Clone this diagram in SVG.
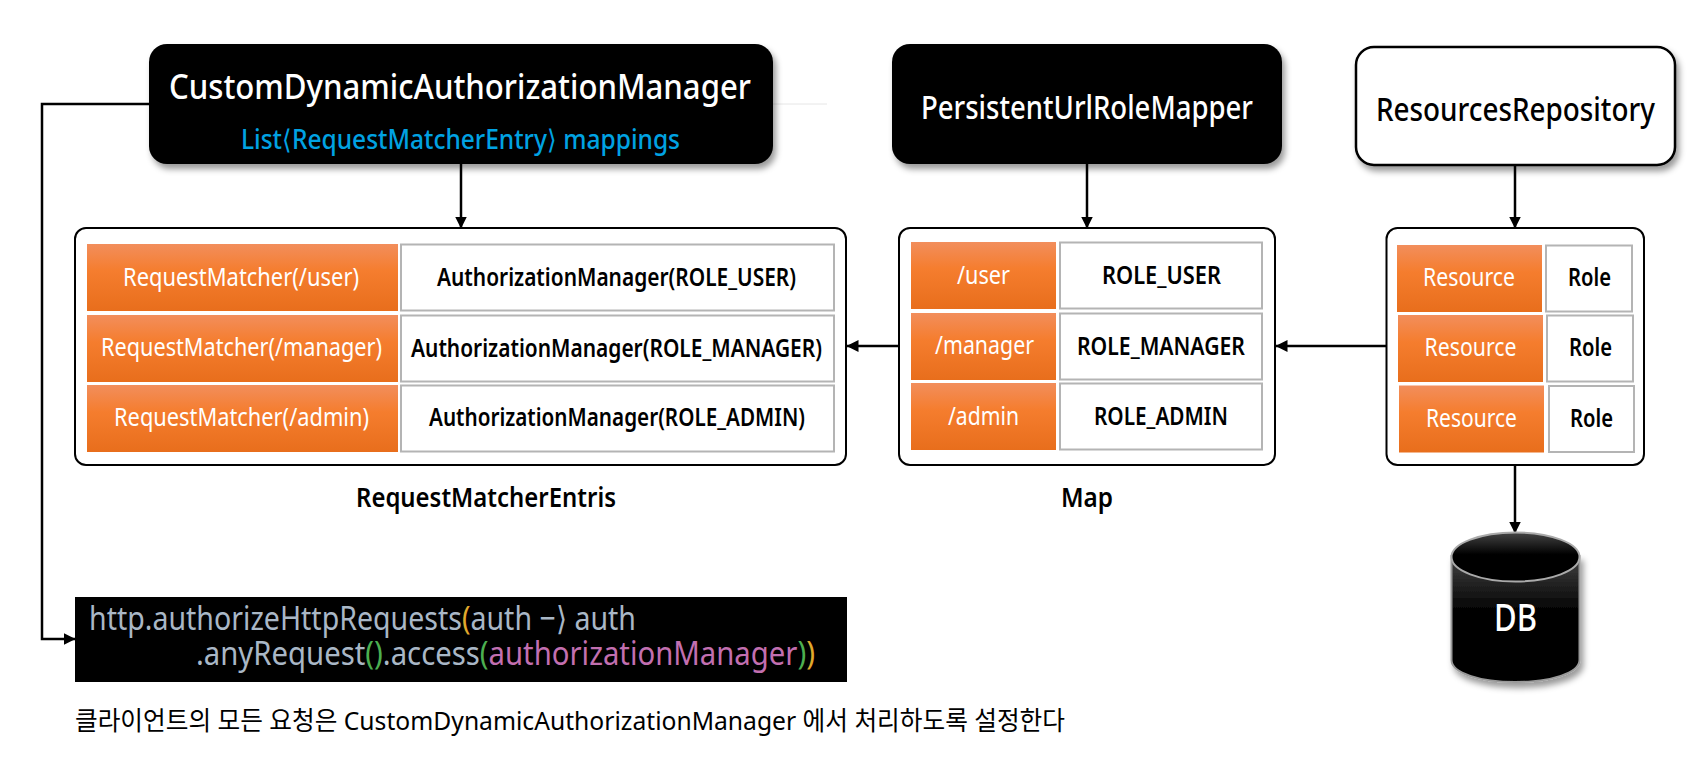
<svg xmlns="http://www.w3.org/2000/svg" width="1698" height="772" viewBox="0 0 1698 772">
<style>
text{font-family:"Noto Sans","Noto Sans CJK KR",sans-serif}
.panel{fill:#fff;stroke:#000;stroke-width:2}
.or{fill:url(#orange)}
.wc{fill:#fff;stroke:#b4b4b4;stroke-width:2}
.ot{fill:#fff;font-size:25px;font-weight:400}
.bt{fill:#000;font-size:25px;font-weight:600}
.cn{fill:none;stroke:#000;stroke-width:2.500}
.code{font-size:33px;fill:#a9b7c6}
.y{fill:#e0a92c}.g{fill:#4caf50}.p{fill:#c26fb0}
</style>
<defs>
<linearGradient id="orange" x1="0" y1="0" x2="0" y2="1"><stop offset="0" stop-color="#f28e5c"/><stop offset=".4" stop-color="#f57d2e"/><stop offset="1" stop-color="#e86e1c"/></linearGradient>
<linearGradient id="cyl" x1="0" y1="0" x2="0" y2="1"><stop offset="0" stop-color="#444"/><stop offset=".45" stop-color="#000"/><stop offset="1" stop-color="#000"/></linearGradient>
<filter id="sh" x="-10%" y="-10%" width="120%" height="130%"><feDropShadow dx="3" dy="5" stdDeviation="3" flood-color="#000" flood-opacity=".4"/></filter>
<marker id="ah" viewBox="0 0 12 12" refX="11.500" refY="6" markerWidth="12" markerHeight="12" markerUnits="userSpaceOnUse" orient="auto"><path d="M0 0L12 6L0 12Z" fill="#000"/></marker>
</defs>
<rect width="1698" height="772" fill="#fff"/>
<path d="M772 104H827" fill="none" stroke="#e6e6e6" stroke-width="1"/>
<g id="connectors">
<path class="cn" d="M149 104H42V639H75" marker-end="url(#ah)"/>
<path class="cn" d="M461 164V228" marker-end="url(#ah)"/>
<path class="cn" d="M1087 164V228" marker-end="url(#ah)"/>
<path class="cn" d="M1515 165V228" marker-end="url(#ah)"/>
<path class="cn" d="M899 346H847" marker-end="url(#ah)"/>
<path class="cn" d="M1386 346H1276" marker-end="url(#ah)"/>
<path class="cn" d="M1515 465V533" marker-end="url(#ah)"/>
</g>
<g id="custom-manager">
<rect x="149" y="44" width="624" height="120" rx="18" fill="#000" filter="url(#sh)"/>
<text x="169" y="99" font-size="35" font-weight="500" fill="#fff" textLength="582" lengthAdjust="spacingAndGlyphs">CustomDynamicAuthorizationManager</text>
<text x="241" y="149" font-size="27" font-weight="500" fill="#00a2e2" textLength="439" lengthAdjust="spacingAndGlyphs">List⟨RequestMatcherEntry⟩ mappings</text>
</g>
<g id="url-role-mapper">
<rect x="892" y="44" width="390" height="120" rx="18" fill="#000" filter="url(#sh)"/>
<text x="921" y="119" font-size="32" font-weight="500" fill="#fff" textLength="332" lengthAdjust="spacingAndGlyphs">PersistentUrlRoleMapper</text>
</g>
<g id="resources-repository">
<rect x="1356" y="47" width="319" height="118" rx="18" fill="#fff" stroke="#000" stroke-width="2.500" filter="url(#sh)"/>
<text x="1376" y="121" font-size="32" font-weight="500" fill="#000" textLength="279" lengthAdjust="spacingAndGlyphs">ResourcesRepository</text>
</g>
<g id="request-matcher-entries">
<rect class="panel" x="75" y="228" width="771" height="237" rx="11"/>
<rect class="or" x="87" y="244" width="311" height="67"/><rect class="wc" x="401" y="244.500" width="433" height="66"/>
<text class="ot" x="123" y="286" textLength="236" lengthAdjust="spacingAndGlyphs">RequestMatcher(/user)</text>
<text class="bt" x="437" y="286" textLength="359" lengthAdjust="spacingAndGlyphs">AuthorizationManager(ROLE_USER)</text>
<rect class="or" x="87" y="315" width="311" height="67"/><rect class="wc" x="401" y="315.500" width="433" height="66"/>
<text class="ot" x="101" y="356" textLength="281" lengthAdjust="spacingAndGlyphs">RequestMatcher(/manager)</text>
<text class="bt" x="411" y="357" textLength="411" lengthAdjust="spacingAndGlyphs">AuthorizationManager(ROLE_MANAGER)</text>
<rect class="or" x="87" y="385" width="311" height="67"/><rect class="wc" x="401" y="385.500" width="433" height="66"/>
<text class="ot" x="114" y="426" textLength="255" lengthAdjust="spacingAndGlyphs">RequestMatcher(/admin)</text>
<text class="bt" x="429" y="426" textLength="376" lengthAdjust="spacingAndGlyphs">AuthorizationManager(ROLE_ADMIN)</text>
<text x="356" y="507" font-size="27" font-weight="600" fill="#000" textLength="260" lengthAdjust="spacingAndGlyphs">RequestMatcherEntris</text>
</g>
<g id="map">
<rect class="panel" x="899" y="228" width="376" height="237" rx="11"/>
<rect class="or" x="911" y="242" width="145" height="67"/><rect class="wc" x="1060" y="242.500" width="202" height="66"/>
<text class="ot" x="957" y="284" textLength="53" lengthAdjust="spacingAndGlyphs">/user</text>
<text class="bt" x="1102" y="284" textLength="119" lengthAdjust="spacingAndGlyphs">ROLE_USER</text>
<rect class="or" x="911" y="313" width="145" height="67"/><rect class="wc" x="1060" y="313.500" width="202" height="66"/>
<text class="ot" x="935" y="354" textLength="99" lengthAdjust="spacingAndGlyphs">/manager</text>
<text class="bt" x="1077" y="355" textLength="168" lengthAdjust="spacingAndGlyphs">ROLE_MANAGER</text>
<rect class="or" x="911" y="383" width="145" height="67"/><rect class="wc" x="1060" y="383.500" width="202" height="66"/>
<text class="ot" x="948" y="425" textLength="71" lengthAdjust="spacingAndGlyphs">/admin</text>
<text class="bt" x="1094" y="425" textLength="134" lengthAdjust="spacingAndGlyphs">ROLE_ADMIN</text>
<text x="1061" y="507" font-size="27" font-weight="600" fill="#000" textLength="52" lengthAdjust="spacingAndGlyphs">Map</text>
</g>
<g id="resources">
<rect class="panel" x="1386.500" y="228" width="257.500" height="237" rx="11"/>
<rect class="or" x="1397" y="245" width="145" height="67"/><rect class="wc" x="1546" y="245.500" width="86" height="66"/>
<text class="ot" x="1423" y="286" textLength="92" lengthAdjust="spacingAndGlyphs">Resource</text>
<text class="bt" x="1568" y="286" textLength="43" lengthAdjust="spacingAndGlyphs">Role</text>
<rect class="or" x="1398" y="315" width="145" height="67"/><rect class="wc" x="1547" y="315.500" width="86" height="66"/>
<text class="ot" x="1424.500" y="356" textLength="92" lengthAdjust="spacingAndGlyphs">Resource</text>
<text class="bt" x="1569" y="356" textLength="43" lengthAdjust="spacingAndGlyphs">Role</text>
<rect class="or" x="1399" y="385.500" width="145" height="67"/><rect class="wc" x="1549" y="386" width="85" height="66"/>
<text class="ot" x="1426" y="427" textLength="91" lengthAdjust="spacingAndGlyphs">Resource</text>
<text class="bt" x="1570" y="427" textLength="43" lengthAdjust="spacingAndGlyphs">Role</text>
</g>
<g id="db">
<path d="M1451.500 556V660C1451.500 673 1480 682 1515.500 682S1579.500 673 1579.500 660V556Z" fill="url(#cyl)" stroke="#999" stroke-width="2" filter="url(#sh)"/>
<ellipse cx="1515.500" cy="557" rx="64" ry="24.500" fill="url(#cyl)" stroke="#aaa" stroke-width="2"/>
<text x="1494" y="631" font-size="38" font-weight="500" fill="#fff" textLength="43" lengthAdjust="spacingAndGlyphs">DB</text>
</g>
<g id="code-block">
<rect x="75" y="597" width="772" height="85" fill="#000"/>
<text class="code" x="89" y="630" textLength="547" lengthAdjust="spacingAndGlyphs">http.authorizeHttpRequests<tspan class="y">(</tspan>auth −⟩ auth</text>
<text class="code" x="196" y="665" textLength="619" lengthAdjust="spacingAndGlyphs">.anyRequest<tspan class="g">()</tspan>.access<tspan class="g">(</tspan><tspan class="p">authorizationManager</tspan><tspan class="g">)</tspan><tspan class="y">)</tspan></text>
</g>
<text x="75" y="730" font-size="26" font-family="'Noto Sans CJK KR',sans-serif" fill="#000" textLength="990" lengthAdjust="spacingAndGlyphs">클라이언트의 모든 요청은 CustomDynamicAuthorizationManager 에서 처리하도록 설정한다</text>
</svg>
